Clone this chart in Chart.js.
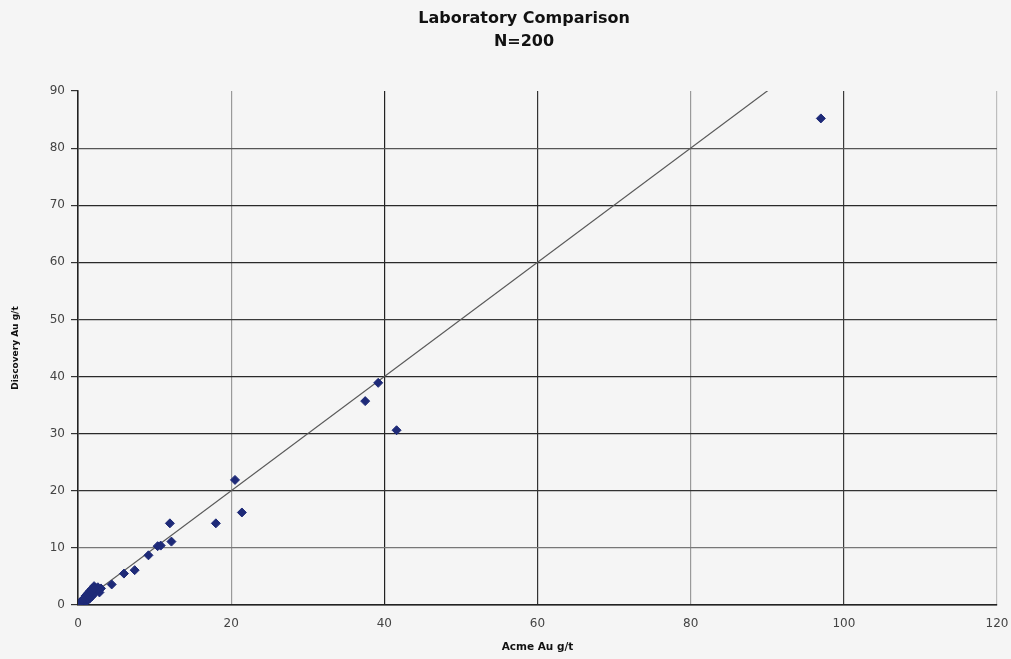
<!DOCTYPE html>
<html>
<head>
<meta charset="utf-8">
<script src="https://cdn.jsdelivr.net/npm/chart.js@4/dist/chart.umd.min.js"></script>
<style>
html,body{margin:0;padding:0;background:#f5f5f5;}
#wrap{width:1011px;height:659px;}
</style>
</head>
<body>
<div id="wrap"><canvas id="c" width="1011" height="659"></canvas></div>
<script>
const titleLines = ["Laboratory Comparison", "N=200"];
const xAxisTitle = "Acme Au g/t";
const yAxisTitle = "Discovery Au g/t";
const xTicks = [0, 20, 40, 60, 80, 100, 120];
const yTicks = [0, 10, 20, 30, 40, 50, 60, 70, 80, 90];

// Acme Au g/t (x) and Discovery Au g/t (y)
const acme = [
  97.0, 39.2, 37.5, 41.6, 20.5, 21.4, 18.0, 12.0, 12.2, 10.4,
  10.8, 9.2, 7.4, 6.0, 4.4, 3.0, 2.6, 2.1, 2.4, 2.8,
  1.9, 1.7, 1.6, 1.5, 1.4, 1.3, 1.2, 1.1, 1.0, 1.0,
  0.9, 0.9, 0.8, 0.8, 0.7, 0.7, 0.6, 0.6, 0.5, 0.5,
  0.45, 0.4, 0.4, 0.35, 0.3, 0.3, 0.25, 0.2, 0.2, 0.15,
  0.12, 0.1, 0.08, 0.05, 0.04, 0.02, 0.01, 1.8, 2.0, 2.2,
  1.3, 1.5, 1.1, 0.95, 0.7, 0.55, 0.5, 0.3, 0.2, 0.15,
  0.1, 0.06, 0.05, 0.1, 0.2, 0.3, 0.4, 0.6, 0.8, 1.0,
  1.2, 1.4, 1.6, 1.8, 2.3, 2.5, 1.7, 1.9, 2.1, 0.0
];
const discovery = [
  85.2, 38.9, 35.7, 30.6, 21.9, 16.2, 14.3, 14.3, 11.1, 10.3,
  10.4, 8.7, 6.1, 5.5, 3.6, 2.9, 3.1, 3.3, 2.5, 2.2,
  2.4, 2.0, 1.8, 1.4, 1.7, 1.2, 1.5, 1.0, 1.3, 0.9,
  1.1, 0.7, 0.9, 0.6, 0.8, 0.5, 0.7, 0.5, 0.6, 0.4,
  0.5, 0.45, 0.3, 0.4, 0.35, 0.25, 0.3, 0.25, 0.15, 0.2,
  0.1, 0.12, 0.06, 0.07, 0.03, 0.02, 0.01, 1.5, 1.9, 2.1,
  0.9, 1.1, 0.7, 0.6, 0.35, 0.3, 0.2, 0.1, 0.05, 0.08,
  0.02, 0.0, 0.15, 0.25, 0.4, 0.5, 0.6, 0.9, 1.2, 1.6,
  1.9, 2.2, 2.5, 2.8, 3.0, 2.7, 2.3, 2.6, 2.9, 0.05
];
const oneToOne = [0, 120];

const points = acme.map((x, i) => ({x: x, y: discovery[i]}));
const lineData = oneToOne.map(v => ({x: v, y: v}));

const xGridColors = {0: '#222', 20: '#9a9a9a', 40: '#222', 60: '#333', 80: '#9a9a9a', 100: '#3a3a3a', 120: '#bdbdbd'};
const yGridColors = {0: '#222', 10: '#777', 20: '#333', 30: '#2a2a2a', 40: '#2a2a2a', 50: '#3a3a3a', 60: '#2a2a2a', 70: '#2a2a2a', 80: '#555', 90: 'rgba(0,0,0,0)'};

const bgPlugin = {
  id: 'bg',
  beforeDraw(chart) {
    const ctx = chart.ctx;
    ctx.save();
    ctx.fillStyle = '#f5f5f5';
    ctx.fillRect(0, 0, chart.width, chart.height);
    ctx.restore();
  },
  afterDraw(chart) {
    const ctx = chart.ctx;
    ctx.save();
    ctx.fillStyle = '#111';
    ctx.textAlign = 'center';
    ctx.textBaseline = 'middle';
    ctx.font = 'bold 16px "DejaVu Sans"';
    ctx.fillText(titleLines[0], 524, 19);
    ctx.fillText(titleLines[1], 524, 42);
    ctx.restore();
  }
};

new Chart(document.getElementById('c'), {
  type: 'scatter',
  data: {
    datasets: [
      {
        label: 'Samples',
        data: points,
        pointStyle: 'rectRot',
        pointRadius: 4.5,
        backgroundColor: '#1e2a78',
        borderColor: '#1e2a78',
        borderWidth: 1,
        order: 1
      },
      {
        type: 'line',
        label: '1:1',
        data: lineData,
        borderColor: '#5a5a5a',
        borderWidth: 1.2,
        pointRadius: 0,
        fill: false,
        order: 2
      }
    ]
  },
  options: {
    responsive: false,
    animation: false,
    devicePixelRatio: 1,
    layout: {padding: {top: 91, right: 14, left: 0, bottom: 0}},
    plugins: {
      legend: {display: false},
      title: {display: false},
      tooltip: {enabled: false}
    },
    scales: {
      x: {
        type: 'linear',
        min: 0, max: 120,
        afterBuildTicks(s) { s.ticks = xTicks.map(v => ({value: v})); },
        afterFit(s) { s.height = 54; s.paddingRight = 0; s.paddingLeft = 0; },
        ticks: {
          font: {family: '"DejaVu Sans"', size: 12},
          color: '#444',
          padding: 12
        },
        grid: {
          drawTicks: false,
          color: ctx => xGridColors[ctx.tick ? ctx.tick.value : 0] || '#333',
          lineWidth: 1.2
        },
        border: {color: '#222', width: 1.5},
        title: {
          display: true,
          text: xAxisTitle,
          font: {family: '"DejaVu Sans"', size: 10.5, weight: 'bold'},
          color: '#111',
          padding: {top: 0, bottom: 5}
        }
      },
      y: {
        type: 'linear',
        min: 0, max: 90,
        afterBuildTicks(s) { s.ticks = yTicks.map(v => ({value: v})); },
        afterFit(s) { s.width = 78; s.paddingTop = 0; s.paddingBottom = 0; },
        ticks: {
          font: {family: '"DejaVu Sans"', size: 12},
          color: '#444',
          padding: 6
        },
        grid: {
          tickLength: 7,
          tickColor: '#333',
          color: ctx => yGridColors[ctx.tick ? ctx.tick.value : 0] || '#333',
          lineWidth: 1.2
        },
        border: {color: '#222', width: 1.5},
        title: {
          display: true,
          text: yAxisTitle,
          font: {family: '"DejaVu Sans"', size: 9, weight: 'bold'},
          color: '#111',
          padding: {top: 10, bottom: 0}
        }
      }
    }
  },
  plugins: [bgPlugin]
});
</script>
</body>
</html>
